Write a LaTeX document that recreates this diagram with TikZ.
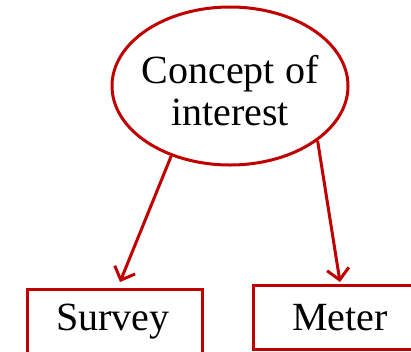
\documentclass[tikz,border=0pt]{standalone}
\usepackage{fontspec}
\setmainfont{Liberation Serif}
\usetikzlibrary{shapes.geometric,arrows.meta}
\definecolor{dred}{RGB}{192,0,0}
\begin{document}
\begin{tikzpicture}[x=1pt,y=-1pt,
  shape line/.style={draw=dred,line width=3pt},
  lbl/.style={font=\fontsize{40}{42}\selectfont,text=black},
  conn/.style={dred,line width=3pt,-{Straight Barb[length=11pt,width=22pt,line width=3pt]}}]
\useasboundingbox (0,0) rectangle (411,351);
\node[ellipse,shape line,minimum width=236pt,minimum height=158pt,inner sep=0pt] (c) at (230,86) {};
\node[lbl,align=center,inner sep=0pt] (ct) at (230,91) {Concept of\\interest};
\node[rectangle,shape line,minimum width=175pt,minimum height=80pt,inner sep=0pt,anchor=north west] (s) at (26,288) {};
\node[lbl] (st) at (113,322) {Survey};
\node[rectangle,shape line,minimum width=170pt,minimum height=64pt,inner sep=0pt,anchor=north west] (m) at (252,284) {};
\node[lbl] (mt) at (340,318) {Meter};
\coordinate (t1) at (120,282);
\coordinate (t2) at (340,282);
\draw[conn] (c.230) -- (t1);
\draw[conn] (c.328) -- (t2);
\end{tikzpicture}
\end{document}
